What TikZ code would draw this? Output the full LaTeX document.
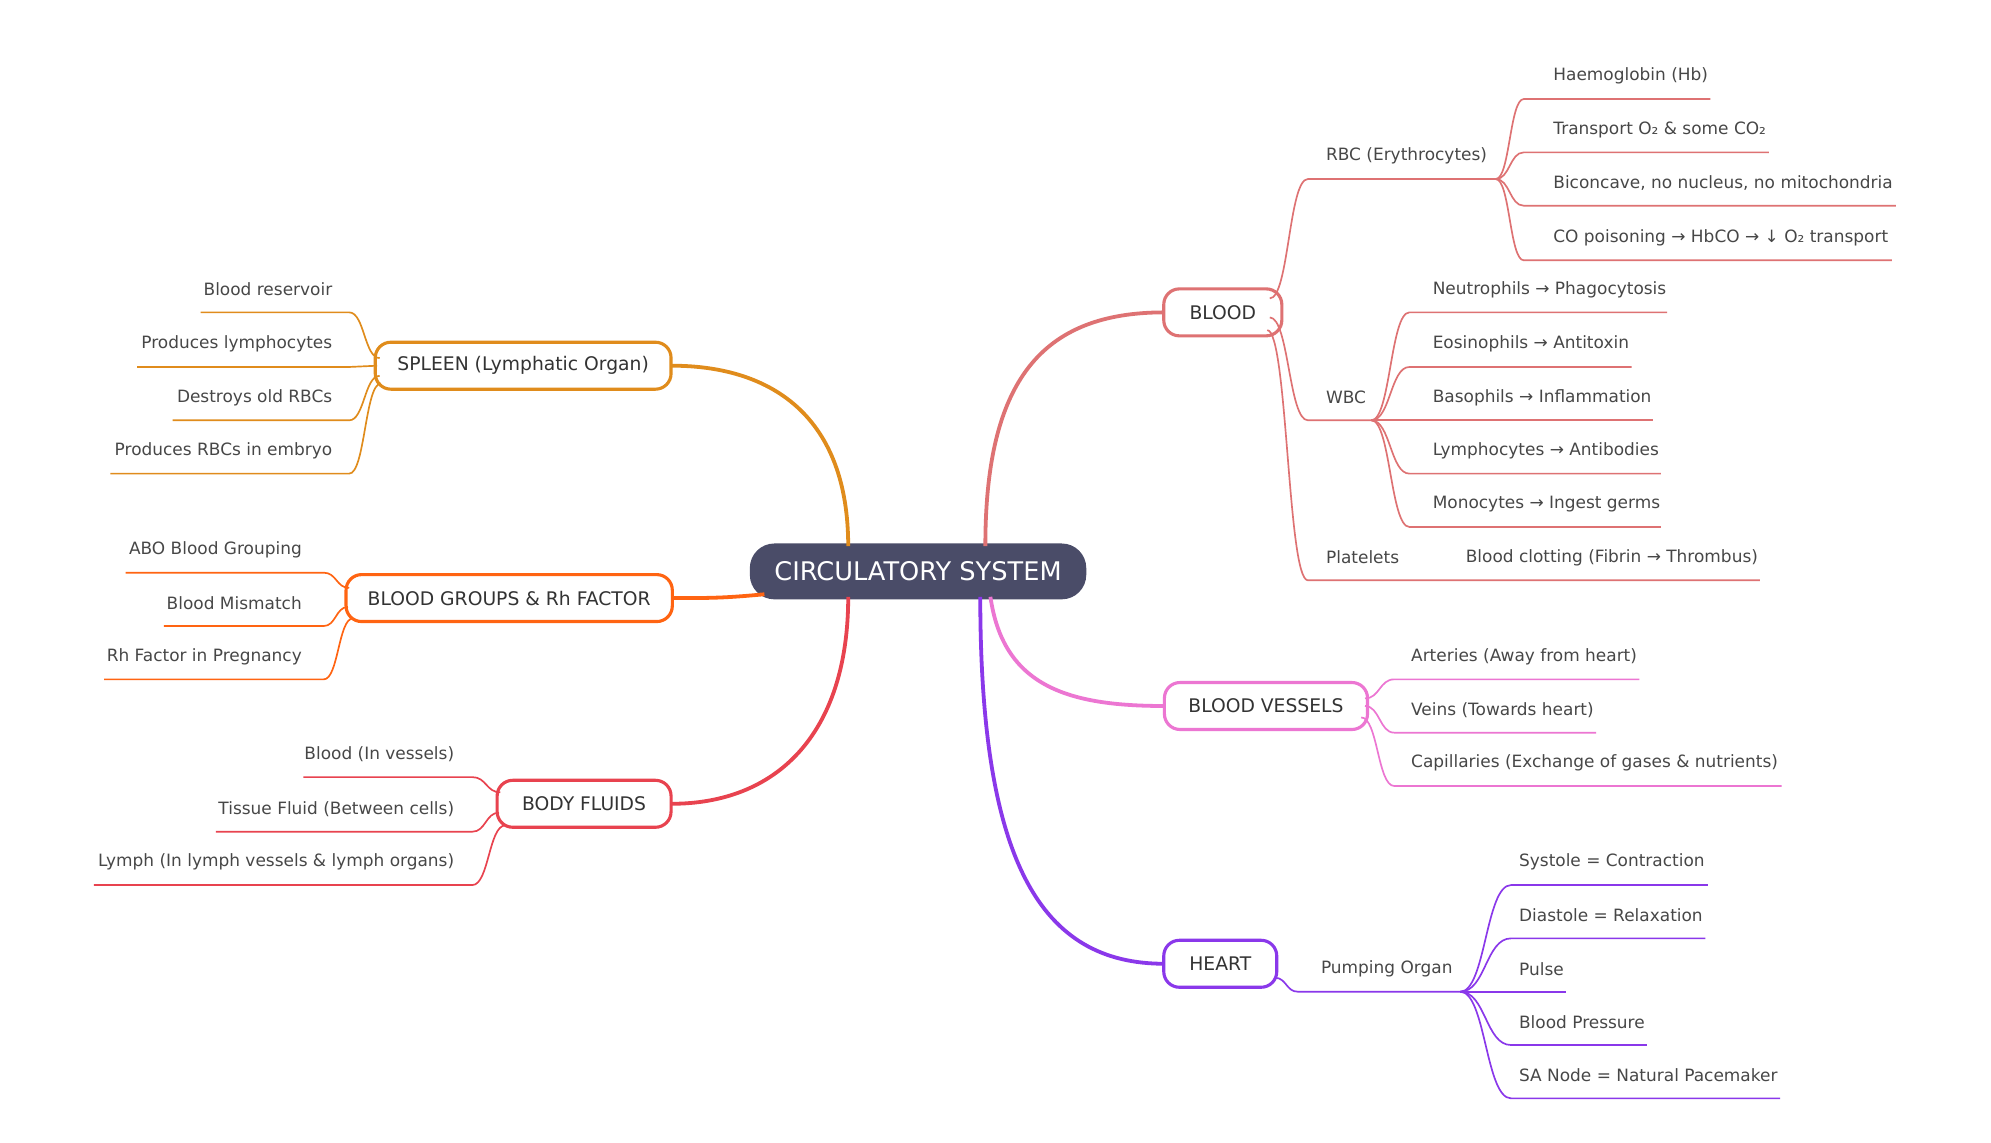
\documentclass[tikz,border=0pt]{standalone}
\usepackage{fontspec}
\setmainfont{DejaVu Sans}
\begin{document}
\begin{tikzpicture}[x=0.02cm,y=-0.02cm,
 leaf/.style={font=\fontsize{7.6}{9}\selectfont,text=black!72,inner sep=0pt},
 box/.style={draw=#1,line width=1.4pt,rounded corners=7pt,fill=white,minimum height=0.74cm,font=\fontsize{8.4}{10}\selectfont,text=black!80,inner sep=0pt},
 main/.style={draw=#1,line width=1.7pt}]
\definecolor{cB}{HTML}{DE7273}
\definecolor{cV}{HTML}{EC76D2}
\definecolor{cH}{HTML}{8A38EA}
\definecolor{cS}{HTML}{E08C1C}
\definecolor{cG}{HTML}{FF6412}
\definecolor{cF}{HTML}{E8434F}
\definecolor{cC}{HTML}{4A4C68}
\useasboundingbox[fill=white] (0,0) rectangle (1568,900);
\newcommand\lf[9]{%
 \pgfmathsetmacro\xm{(#2+#4)/2}%
 \draw[#1,line width=0.75pt] (#2,#3) .. controls (\xm,#3) and (\xm,#5) .. (#4,#5) -- (#6,#5);
 \node[leaf,anchor=#8] at (#7,#5-18) {#9};}
% center
\node[fill=cC,rounded corners=11pt,minimum width=5.3cm,minimum height=0.88cm,text=white,font=\fontsize{11.5}{13}\selectfont] (c) at (723,450) {CIRCULATORY SYSTEM};
% main branches
\draw[main=cB] (776,430) .. controls (776,300) and (820,246) .. (917,246);
\draw[main=cV] (780,470) .. controls (790,540) and (840,556) .. (917,556);
\draw[main=cH] (772,470) .. controls (772,680) and (820,759) .. (917,759);
\draw[main=cS] (668,430) .. controls (668,330) and (610,288) .. (529,288);
\draw[main=cG] (602,468) .. controls (570,471) and (560,471) .. (530,471);
\draw[main=cF] (668,470) .. controls (668,580) and (610,633) .. (529,633);
% boxes
\node[box=cB,minimum width=1.86cm] (blood) at (963,246) {BLOOD};
\node[box=cV,minimum width=3.2cm] (vessels) at (997,556) {BLOOD VESSELS};
\node[box=cH,minimum width=1.78cm] (heart) at (961,759) {HEART};
\node[box=cS,minimum width=4.66cm] (spleen) at (412,288) {SPLEEN (Lymphatic Organ)};
\node[box=cG,minimum width=5.14cm] (groups) at (401,471) {BLOOD GROUPS \& Rh FACTOR};
\node[box=cF,minimum width=2.74cm] (fluids) at (460,633) {BODY FLUIDS};
% BLOOD
\lf{cB}{1000}{235}{1030}{141}{1180}{1044}{west}{RBC (Erythrocytes)}
\lf{cB}{1000}{250}{1030}{331}{1080}{1044}{west}{WBC}
\lf{cB}{998}{260}{1030}{457}{1386}{1044}{west}{Platelets}
\node[leaf,anchor=west] (pl) at (1154,439) {Blood clotting (Fibrin → Thrombus)};
\lf{cB}{1178}{141}{1200}{78}{1347}{1223}{west}{Haemoglobin (Hb)}
\lf{cB}{1178}{141}{1200}{120}{1393}{1223}{west}{Transport O₂ \& some CO₂}
\lf{cB}{1178}{141}{1200}{162}{1493}{1223}{west}{Biconcave, no nucleus, no mitochondria}
\lf{cB}{1178}{141}{1200}{205}{1490}{1223}{west}{CO poisoning → HbCO → ↓ O₂ transport}
\lf{cB}{1080}{331}{1110}{246}{1313}{1128}{west}{Neutrophils → Phagocytosis}
\lf{cB}{1080}{331}{1110}{289}{1285}{1128}{west}{Eosinophils → Antitoxin}
\lf{cB}{1080}{331}{1110}{331}{1302}{1128}{west}{Basophils → Inflammation}
\lf{cB}{1080}{331}{1110}{373}{1308}{1128}{west}{Lymphocytes → Antibodies}
\lf{cB}{1080}{331}{1110}{415}{1308}{1128}{west}{Monocytes → Ingest germs}
% VESSELS
\lf{cV}{1075}{550}{1098}{535}{1291}{1111}{west}{Arteries (Away from heart)}
\lf{cV}{1075}{556}{1098}{577}{1257}{1111}{west}{Veins (Towards heart)}
\lf{cV}{1072}{565}{1098}{619}{1403}{1111}{west}{Capillaries (Exchange of gases \& nutrients)}
% HEART
\lf{cH}{1004}{770}{1022}{781}{1150}{1040}{west}{Pumping Organ}
\lf{cH}{1150}{781}{1190}{697}{1345}{1196}{west}{Systole = Contraction}
\lf{cH}{1150}{781}{1190}{739}{1343}{1196}{west}{Diastole = Relaxation}
\lf{cH}{1150}{781}{1190}{781}{1233}{1196}{west}{Pulse}
\lf{cH}{1150}{781}{1190}{823}{1297}{1196}{west}{Blood Pressure}
\lf{cH}{1150}{781}{1190}{865}{1402}{1196}{west}{SA Node = Natural Pacemaker}
% SPLEEN
\lf{cS}{299}{282}{275}{246}{158}{262}{east}{Blood reservoir}
\lf{cS}{297}{288}{275}{289}{108}{262}{east}{Produces lymphocytes}
\lf{cS}{299}{296}{275}{331}{136}{262}{east}{Destroys old RBCs}
\lf{cS}{300}{302}{275}{373}{87}{262}{east}{Produces RBCs in embryo}
% GROUPS
\lf{cG}{275}{463}{255}{451}{99}{238}{east}{ABO Blood Grouping}
\lf{cG}{274}{478}{255}{493}{129}{238}{east}{Blood Mismatch}
\lf{cG}{278}{487}{255}{535}{82}{238}{east}{Rh Factor in Pregnancy}
% FLUIDS
\lf{cF}{394}{624}{372}{612}{239}{358}{east}{Blood (In vessels)}
\lf{cF}{393}{640}{372}{655}{170}{358}{east}{Tissue Fluid (Between cells)}
\lf{cF}{398}{650}{372}{697}{74}{358}{east}{Lymph (In lymph vessels \& lymph organs)}
\end{tikzpicture}
\end{document}
